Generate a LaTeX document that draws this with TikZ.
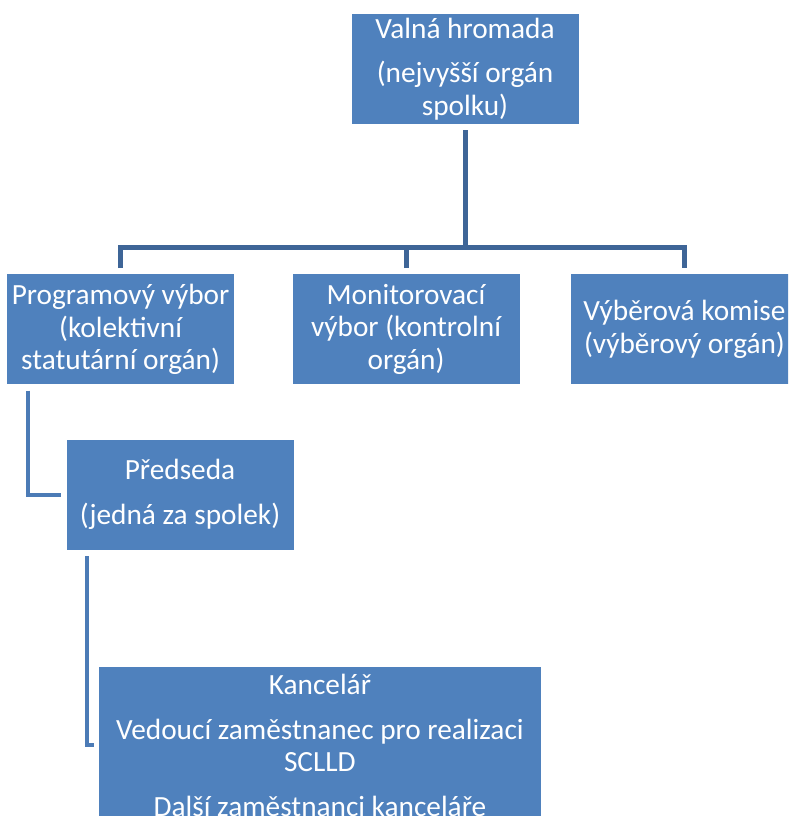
\documentclass[tikz,border=0pt]{standalone}
\usepackage{fontspec}
\setmainfont{Carlito}
\usepackage{tikz}
\usetikzlibrary{positioning}
\definecolor{boxblue}{RGB}{79,129,189}
\definecolor{edgedark}{RGB}{62,101,151}
\definecolor{edgelight}{RGB}{76,123,182}
\tikzstyle{org box}=[fill=boxblue,text=white,align=center,inner sep=2pt,
  minimum width=227pt,minimum height=110pt,
  font=\fontsize{29.3pt}{32.5pt}\selectfont]
\tikzstyle{top edge}=[draw=edgedark,line width=5pt,shorten <=6pt,shorten >=6pt]
\tikzstyle{low edge}=[draw=edgelight,line width=4pt,shorten <=6pt,shorten >=5pt]
\newcommand{\orgnode}[3][]{
  \node [org box, #1] (#2) {#3}
}
\begin{document}
\begin{tikzpicture}[node distance=1cm]
  \useasboundingbox (0,0) rectangle (788pt,-816pt);
  \clip (0,0) rectangle (788pt,-816pt);
        \orgnode[at={(465pt,-69pt)}]{vh}{Valná hromada\\[11.5pt](nejvyšší orgán\\spolku)};
        \orgnode[below left=150pt and 117pt of vh]{pv}{Programový výbor\\(kolektivní\\statutární orgán)};
        \orgnode[right=58pt of pv]{mv}{Monitorovací\\výbor (kontrolní\\orgán)};
        \orgnode[right=51pt of mv]{vk}{Výběrová komise\\(výběrový orgán)};
         \orgnode[below right=55pt and -168pt of pv]{pr}{Předseda\\[12.5pt](jedná za spolek)};
         \orgnode[below right=117pt and -195pt of pr,minimum width=442pt,minimum height=156pt]{ka}{Kancelář\\[12.5pt]Vedoucí zaměstnanec pro realizaci\\SCLLD\\[12.5pt]Další zaměstnanci kanceláře};
      \coordinate[below=123pt of vh] (bus);
      \draw[top edge,shorten >=0pt] (vh) -- (bus);
            \draw[top edge] (pv) |- (bus) -| (vk);
                  \draw[top edge,shorten >=0pt] (mv) -- (mv |- bus);
                        \draw[low edge] ([xshift=21pt]pv.south west) |- (pr);
                              \draw[low edge] ([xshift=21pt]pr.south west) |- (ka);
      \end{tikzpicture}
\end{document}
